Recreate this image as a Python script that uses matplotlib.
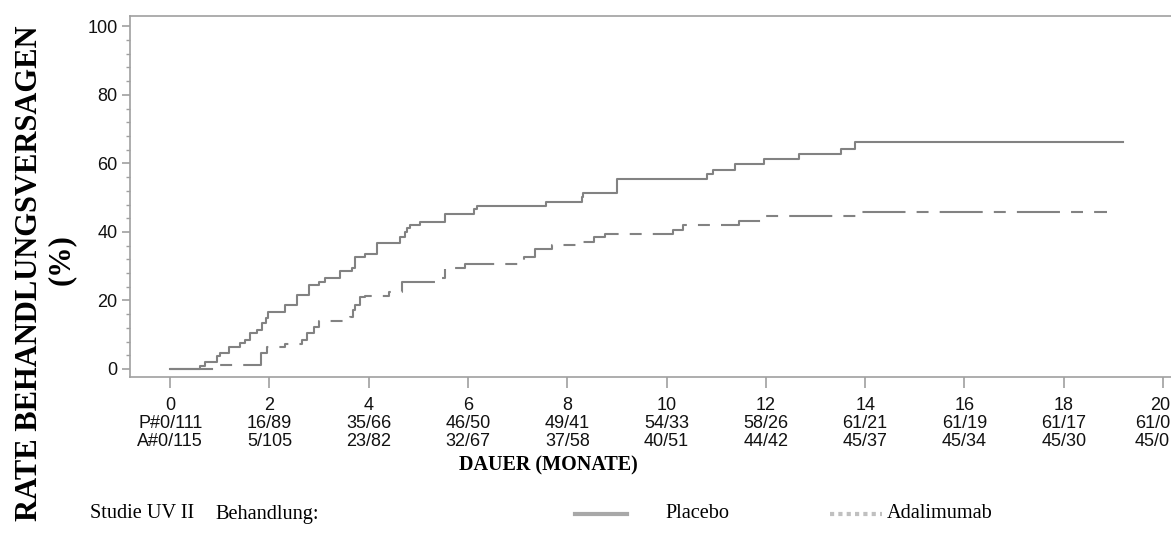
import matplotlib
matplotlib.use("Agg")
import matplotlib.pyplot as plt
from matplotlib.lines import Line2D
from matplotlib.ticker import MultipleLocator
import matplotlib.transforms as mtransforms

# step curves (months, cumulative treatment failure %)
placebo_t = [0, 0.60, 0.70, 0.94, 1.00, 1.18, 1.41, 1.51, 1.61, 1.75, 1.85,
             1.93, 1.98, 2.32, 2.55, 2.79, 2.99, 3.12, 3.42, 3.66, 3.73,
             3.93, 4.16, 4.63, 4.73, 4.77, 4.83, 5.04, 5.54, 6.12, 6.19,
             7.57, 8.29, 8.32, 9.01, 10.81, 10.93, 11.37, 11.97, 12.66,
             13.52, 13.80, 19.2]
placebo_v = [0, 0.9, 2.1, 3.8, 4.6, 6.5, 7.5, 8.6, 10.5, 11.4, 13.5,
             14.8, 16.7, 18.7, 21.6, 24.5, 25.3, 26.6, 28.7, 29.6, 32.7,
             33.7, 36.8, 38.6, 40.0, 41.0, 42.0, 42.9, 45.2, 46.6, 47.5,
             48.8, 50.2, 51.5, 55.4, 56.9, 58.2, 59.8, 61.2, 62.8,
             64.3, 66.1, 66.1]

ada_t = [0, 0.95, 1.83, 1.95, 2.32, 2.65, 2.75, 2.89, 2.99, 3.63, 3.69,
         3.73, 3.83, 3.93, 4.40, 4.67, 5.40, 5.54, 5.94, 7.12, 7.35, 7.69,
         8.29, 8.53, 8.76, 10.12, 10.34, 11.45, 11.97, 13.82, 18.87]
ada_v = [0, 1.2, 4.6, 6.3, 7.3, 8.6, 10.4, 12.2, 14.0, 15.1, 17.2,
         18.7, 21.1, 21.3, 22.4, 25.5, 26.5, 29.5, 30.6, 32.8, 34.9, 36.1,
         37.2, 38.5, 39.5, 40.6, 41.9, 43.3, 44.6, 45.9, 45.9]

# at-risk table under the x axis
months = [0, 2, 4, 6, 8, 10, 12, 14, 16, 18, 20]
placebo_risk = ["P#0/111", "16/89", "35/66", "46/50", "49/41", "54/33",
                "58/26", "61/21", "61/19", "61/17", "61/0"]
ada_risk = ["A#0/115", "5/105", "23/82", "32/67", "37/58", "40/51",
            "44/42", "45/37", "45/34", "45/30", "45/0"]

GRAY = "#828282"
SPINE = "#a0a0a0"
TXT = "#111111"
plt.rcParams['lines.scale_dashes'] = False

fig = plt.figure(figsize=(11.71, 5.39), dpi=100)
ax = fig.add_axes([0.111, 0.3006, 0.9, 0.669])

ax.step(placebo_t, placebo_v, where="post", color=GRAY, lw=1.5)
ax.step(ada_t, ada_v, where="post", color=GRAY, lw=1.5,
        linestyle=(0, (31, 8, 8.6, 8)))

ax.set_xlim(-0.81, 20.42)
ax.set_ylim(-2.33, 102.9)

for side in ["left", "bottom", "top", "right"]:
    ax.spines[side].set_color(SPINE)
    ax.spines[side].set_linewidth(1.2)

ax.set_yticks([0, 20, 40, 60, 80, 100])
ax.yaxis.set_minor_locator(MultipleLocator(4))
ax.tick_params(axis="y", which="major", length=6, width=1.2, color=SPINE,
               labelsize=13, pad=3)
ax.tick_params(axis="y", which="minor", length=3, width=1, color=SPINE)
for lab in ax.get_yticklabels():
    lab.set_fontfamily("Liberation Sans")
    lab.set_color(TXT)

ax.set_xticks(months)
ax.set_xticklabels([])
ax.tick_params(axis="x", length=8, width=1.2, color=SPINE)

trans = mtransforms.blended_transform_factory(ax.transData, fig.transFigure)
rows = [[str(m) for m in months], placebo_risk, ada_risk]
row_y = [1 - 405 / 539, 1 - 423 / 539, 1 - 441 / 539]
for labels, yy in zip(rows, row_y):
    for m, txt in zip(months, labels):
        if m == months[-1]:
            # last column sits against the right edge of the picture
            fig.text(1170 / 1171, yy, txt, ha="right", va="center",
                     fontsize=13, family="Liberation Sans", color=TXT)
            continue
        ax.text(m, yy, txt, transform=trans, ha="center", va="center",
                fontsize=13, family="Liberation Sans", color=TXT,
                clip_on=False)

fig.text(0.468, 1 - 465 / 539, "DAUER (MONATE)", ha="center", va="center",
         fontsize=14.5, fontweight="bold", family="Liberation Serif")

fig.text(30 / 1171, 1 - 273 / 539, "RATE BEHANDLUNGSVERSAGEN",
         rotation=90, ha="center", va="center", fontsize=22,
         fontweight="bold", family="Liberation Serif")
fig.text(61 / 1171, 1 - 260 / 539, "(%)", rotation=90, ha="center",
         va="center", fontsize=22, fontweight="bold",
         family="Liberation Serif")

# legend row
leg_y = 1 - 514 / 539
fig.text(90 / 1171, leg_y, "Studie UV II", ha="left", va="center",
         fontsize=14.6, family="Liberation Serif")
fig.text(215 / 1171, leg_y, "Behandlung:", ha="left", va="center",
         fontsize=14.6, family="Liberation Serif")
fig.add_artist(Line2D([575 / 1171, 627 / 1171], [leg_y, leg_y],
                      color="#a8a8a8", lw=3))
fig.text(665 / 1171, leg_y, "Placebo", ha="left", va="center",
         fontsize=14.6, family="Liberation Serif")
fig.add_artist(Line2D([830 / 1171, 882 / 1171], [leg_y, leg_y],
                      color="#c0c0c0", lw=3, linestyle=(0, (3, 3))))
fig.text(887 / 1171, leg_y, "Adalimumab", ha="left", va="center",
         fontsize=14.6, family="Liberation Serif")

fig.savefig("out.png", dpi=100)
